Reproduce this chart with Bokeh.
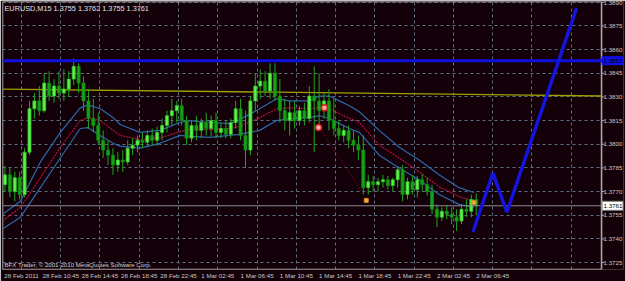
from bokeh.plotting import figure
from bokeh.models import (Range1d, FixedTicker, Label, Span, ColumnDataSource,
                          PrintfTickFormatter, CustomJSTickFormatter)
from bokeh.core.properties import value
from bokeh.embed import file_html
from bokeh.resources import INLINE

# ---------------- data ----------------
title_text = "EURUSD,M15  1.3755 1.3762 1.3755 1.3761"
copyright_text = "BFX Trader, \u00a9 2001-2010 MetaQuotes Software Corp."

opens = [1.37744, 1.37806, 1.37700, 1.37788, 1.37681, 1.37950, 1.38225, 1.38275, 1.38213, 1.38388,
         1.38306, 1.38369, 1.38325, 1.38350, 1.38413, 1.38494, 1.38388, 1.38275, 1.38163, 1.38119,
         1.38025, 1.37963, 1.37931, 1.37869, 1.37900, 1.37888, 1.37975, 1.37994, 1.38025, 1.38013,
         1.38056, 1.38025, 1.38075, 1.38119, 1.38181, 1.38213, 1.38244, 1.38150, 1.38038, 1.38119,
         1.38088, 1.38138, 1.38100, 1.38150, 1.38075, 1.38100, 1.38063, 1.38138, 1.38225, 1.38056,
         1.37963, 1.38275, 1.38369, 1.38400, 1.38338, 1.38450, 1.38306, 1.38213, 1.38150, 1.38200,
         1.38150, 1.38213, 1.38163, 1.38306, 1.38275, 1.38213, 1.38275, 1.38150, 1.38100, 1.38056,
         1.38088, 1.38025, 1.37994, 1.37963, 1.37725, 1.37763, 1.37744, 1.37763, 1.37775, 1.37738,
         1.37775, 1.37838, 1.37681, 1.37763, 1.37713, 1.37775, 1.37744, 1.37700, 1.37588, 1.37538,
         1.37575, 1.37556, 1.37538, 1.37513, 1.37588, 1.37575, 1.37650]
highs = [1.37863, 1.37850, 1.37825, 1.37825, 1.37975, 1.38275, 1.38325, 1.38369, 1.38450, 1.38463,
         1.38413, 1.38463, 1.38475, 1.38463, 1.38544, 1.38513, 1.38431, 1.38350, 1.38288, 1.38200,
         1.38088, 1.38025, 1.37975, 1.37950, 1.37963, 1.38025, 1.38038, 1.38056, 1.38075, 1.38088,
         1.38100, 1.38113, 1.38163, 1.38213, 1.38288, 1.38275, 1.38288, 1.38181, 1.38150, 1.38181,
         1.38163, 1.38200, 1.38181, 1.38200, 1.38138, 1.38150, 1.38163, 1.38275, 1.38288, 1.38213,
         1.38306, 1.38450, 1.38475, 1.38463, 1.38513, 1.38513, 1.38413, 1.38288, 1.38275, 1.38275,
         1.38244, 1.38263, 1.38369, 1.38494, 1.38450, 1.38325, 1.38350, 1.38288, 1.38150, 1.38119,
         1.38119, 1.38088, 1.38056, 1.38056, 1.37806, 1.37800, 1.37788, 1.37806, 1.37800, 1.37788,
         1.37863, 1.37869, 1.37788, 1.37806, 1.37800, 1.37813, 1.37788, 1.37744, 1.37619, 1.37600,
         1.37613, 1.37600, 1.37588, 1.37619, 1.37650, 1.37681, 1.37688]
lows = [1.37700, 1.37663, 1.37638, 1.37650, 1.37663, 1.37931, 1.38163, 1.38181, 1.38200, 1.38275,
        1.38263, 1.38288, 1.38275, 1.38300, 1.38375, 1.38325, 1.38213, 1.38100, 1.38075, 1.37994,
        1.37913, 1.37869, 1.37806, 1.37825, 1.37825, 1.37869, 1.37931, 1.37950, 1.37975, 1.37981,
        1.37994, 1.37988, 1.38025, 1.38075, 1.38119, 1.38138, 1.38119, 1.37994, 1.38013, 1.38025,
        1.38038, 1.38056, 1.38050, 1.38038, 1.38038, 1.38038, 1.38038, 1.38100, 1.38025, 1.37850,
        1.37931, 1.38213, 1.38288, 1.38306, 1.38288, 1.38275, 1.38138, 1.38088, 1.38056, 1.38100,
        1.38119, 1.38119, 1.38138, 1.37950, 1.38088, 1.38163, 1.38088, 1.38056, 1.38025, 1.38013,
        1.37975, 1.37950, 1.37900, 1.37681, 1.37681, 1.37700, 1.37700, 1.37725, 1.37713, 1.37700,
        1.37725, 1.37638, 1.37650, 1.37681, 1.37663, 1.37700, 1.37675, 1.37556, 1.37475, 1.37513,
        1.37525, 1.37494, 1.37450, 1.37494, 1.37538, 1.37538, 1.37550]
closes = [1.37806, 1.37700, 1.37788, 1.37681, 1.37950, 1.38225, 1.38275, 1.38213, 1.38388, 1.38306,
          1.38369, 1.38325, 1.38350, 1.38413, 1.38494, 1.38388, 1.38275, 1.38163, 1.38119, 1.38025,
          1.37963, 1.37931, 1.37869, 1.37900, 1.37888, 1.37975, 1.37994, 1.38025, 1.38013, 1.38056,
          1.38025, 1.38075, 1.38119, 1.38181, 1.38213, 1.38244, 1.38150, 1.38038, 1.38119, 1.38088,
          1.38138, 1.38100, 1.38150, 1.38075, 1.38100, 1.38063, 1.38138, 1.38225, 1.38056, 1.37963,
          1.38275, 1.38369, 1.38400, 1.38338, 1.38450, 1.38306, 1.38213, 1.38150, 1.38200, 1.38150,
          1.38213, 1.38163, 1.38306, 1.38275, 1.38213, 1.38275, 1.38150, 1.38100, 1.38056, 1.38088,
          1.38025, 1.37994, 1.37963, 1.37725, 1.37763, 1.37744, 1.37763, 1.37775, 1.37738, 1.37775,
          1.37838, 1.37681, 1.37763, 1.37713, 1.37775, 1.37744, 1.37700, 1.37588, 1.37538, 1.37575,
          1.37556, 1.37538, 1.37513, 1.37588, 1.37575, 1.37650, 1.37610]

# indicator lines (bar position, price)
band_bars = [0.0, 3.65, 7.72, 11.78, 15.84, 17.4, 19.9, 22.54, 23.96, 28.02, 32.08, 36.14, 38.17,
             42.23, 46.29, 48.32, 52.39, 55.84, 58.48, 62.54, 64.57, 66.6, 68.63, 70.66, 72.69,
             76.75, 80.81, 84.87, 88.93, 93.0, 96.04]
upper_band = [1.37556, 1.37638, 1.37888, 1.38075, 1.38231, 1.38250, 1.38225, 1.38169, 1.38125,
              1.38075, 1.38088, 1.38138, 1.38150, 1.38138, 1.38131, 1.38156, 1.38225, 1.38288,
              1.38275, 1.38275, 1.38306, 1.38306, 1.38275, 1.38244, 1.38206, 1.38088, 1.37981,
              1.37900, 1.37806, 1.37725, 1.37694]
middle_line = [1.37513, 1.37600, 1.37788, 1.37981, 1.38150, 1.38169, 1.38150, 1.38088, 1.38056,
               1.38030, 1.38040, 1.38080, 1.38094, 1.38094, 1.38100, 1.38113, 1.38169, 1.38225,
               1.38231, 1.38225, 1.38231, 1.38225, 1.38194, 1.38165, 1.38138, 1.37994, 1.37913,
               1.37825, 1.37731, 1.37669, 1.37638]
lower_band = [1.37463, 1.37538, 1.37725, 1.37913, 1.38100, 1.38106, 1.38056, 1.38006, 1.37988,
              1.37975, 1.38006, 1.38056, 1.38050, 1.38044, 1.38056, 1.38063, 1.38088, 1.38150,
              1.38163, 1.38169, 1.38181, 1.38163, 1.38131, 1.38100, 1.38075, 1.37931, 1.37850,
              1.37775, 1.37681, 1.37619, 1.37600]
fall_bars = [65.18, 73.3]
fall_line = [1.38075, 1.37694]

signal_bars = [65.58, 64.37]
signal_prices = [1.38231, 1.38106]
mark_bars = [74.1, 96.04]
mark_prices = [1.37644, 1.37631]

zigzag_bars = [95.84, 99.90, 102.74, 116.95]
zigzag_prices = [1.37444, 1.37819, 1.37569, 1.38863]

resistance = 1.3853
bid = 1.3761
pivot_line = [1.38350, 1.38306]

price_ticks = [1.3725, 1.3740, 1.3755, 1.3770, 1.3785, 1.3800, 1.3815,
               1.3830, 1.3845, 1.3860, 1.3875, 1.3890]
time_labels = ["28 Feb 2011", "28 Feb 10:45", "28 Feb 14:45", "28 Feb 18:45", "28 Feb 22:45",
               "1 Mar 02:45", "1 Mar 06:45", "1 Mar 10:45", "1 Mar 14:45", "1 Mar 18:45",
               "1 Mar 22:45", "2 Mar 02:45", "2 Mar 06:45", "", ""]
first_grid_bar = 3.86
bars_per_label = 8

# ---------------- styling ----------------
BG = "#140009"
GRID = "#5f6f82"
TXT = "#c8c8c8"
FRAME = "#a8a8a8"
FONT = "Liberation Sans"

y0, y1 = 1.37206, 1.38905
chart_end = 122.03      # right edge of the price area
x_end = 126.5           # includes the price-scale strip
p = figure(width=625, height=281, x_range=Range1d(0, x_end), y_range=Range1d(y0, y1),
           y_axis_location="right", output_backend="svg", toolbar_location=None,
           background_fill_color=BG, border_fill_color=BG,
           min_border_left=2, min_border_right=0, min_border_top=1, min_border_bottom=11)
p.outline_line_color = None

# y axis: labels pulled back into the price-scale strip
p.yaxis.ticker = FixedTicker(ticks=price_ticks)
p.yaxis.formatter = PrintfTickFormatter(format="%.4f")
p.yaxis.axis_line_color = None
p.yaxis.major_tick_in = 0
p.yaxis.major_tick_out = 0
p.yaxis.minor_tick_out = 0
p.yaxis.minor_tick_in = 0
p.yaxis.major_label_standoff = -20
p.yaxis.major_label_text_font = FONT
p.yaxis.major_label_text_font_size = "6.2px"
p.yaxis.major_label_text_color = TXT

x_ticks = [first_grid_bar + bars_per_label * k for k in range(len(time_labels))]
p.xaxis.ticker = FixedTicker(ticks=x_ticks)
p.xaxis.formatter = CustomJSTickFormatter(args=dict(labels=time_labels),
                                          code="const v = labels[index]; return v == null ? '' : v;")
p.xaxis.axis_line_color = None
p.xaxis.major_tick_out = 0
p.xaxis.major_tick_in = 0
p.xaxis.minor_tick_out = 0
p.xaxis.minor_tick_in = 0
p.xaxis.major_label_standoff = 2
p.xaxis.major_label_text_font = FONT
p.xaxis.major_label_text_font_size = "6.2px"
p.xaxis.major_label_text_color = TXT

p.grid.grid_line_color = GRID
p.grid.grid_line_dash = "3 3"
p.grid.grid_line_width = 1

# price-scale strip background (hides the grid there)
p.quad(left=[chart_end], right=[x_end], bottom=[y0], top=[y1], fill_color=BG, line_color=None)

# frame of the price area
p.line([chart_end, 0, 0, chart_end, chart_end], [y1, y1, y0, y0, y1], line_color=FRAME, line_width=1.6)
# small tick marks on the price scale
p.segment(x0=[chart_end] * len(price_ticks), y0=price_ticks,
          x1=[chart_end + 0.6] * len(price_ticks), y1=price_ticks, line_color=FRAME, line_width=1)

# olive pivot line
p.line([0, chart_end], pivot_line, line_color="#a0a000", line_width=1.3)

# bands
p.line(band_bars, upper_band, line_color="#2c68aa", line_width=1.2)
p.line(band_bars, lower_band, line_color="#2c68aa", line_width=1.2)
p.line(band_bars, middle_line, line_color="#c01440", line_width=1.1, line_dash="2 1")
p.line(fall_bars, fall_line, line_color="#b01038", line_width=1, line_dash="1 2")

# candles
n = len(closes)
xs = [i + 0.5 for i in range(n)]
bull = [c >= o for o, c in zip(opens, closes)]
src = ColumnDataSource(dict(
    x=xs, high=highs, low=lows,
    top=[max(o, c) for o, c in zip(opens, closes)],
    bottom=[min(o, c) for o, c in zip(opens, closes)],
    fill=["#62f048" if b else "#18a018" for b in bull],
    edge=["#2cc02c" if b else "#0c8a0c" for b in bull],
))
p.segment("x", "high", "x", "low", source=src, line_color="#1ea51e", line_width=1)
p.vbar(x="x", top="top", bottom="bottom", width=0.62, source=src,
       fill_color="fill", line_color="edge", line_width=0.8)

# bid line and resistance line
p.line([0, chart_end], [bid, bid], line_color="#8a8a94", line_width=1)
p.line([0, x_end], [resistance, resistance], line_color="#1010e0", line_width=3)

# zigzag
p.line(zigzag_bars, zigzag_prices, line_color="#1414dc", line_width=3.5)

# signal markers
p.scatter(signal_bars, signal_prices, size=6, fill_color="#ffb0b0", line_color="#e01818", line_width=1.5)
p.scatter(mark_bars, mark_prices, marker="square", size=4, fill_color="#f0b040", line_color="#d08020")

# price tags on the price scale (drawn above the axis labels)
tag_x = (chart_end + x_end) / 2
p.rect(x=[tag_x], y=[resistance], width=x_end - chart_end, height=9, height_units="screen",
       fill_color="#1010e0", line_color=None, level="overlay")
p.rect(x=[tag_x], y=[bid], width=x_end - chart_end - 0.2, height=9, height_units="screen",
       fill_color="#ffffff", line_color="#808080", level="overlay")
p.text(x=[chart_end + 0.4, chart_end + 0.4], y=[resistance, bid], text=["1.3853", "1.3761"],
       text_baseline="middle", text_font=value(FONT), text_font_size="6.2px",
       text_color=["#000000", "#000000"], level="overlay")

# texts
p.add_layout(Label(x=0, y=y1, x_offset=2, y_offset=-7, text=title_text, text_baseline="middle",
                   text_font=FONT, text_font_size="7.3px", text_color="#e0e0e0"))
p.add_layout(Label(x=0, y=y0, x_offset=2, y_offset=5, text=copyright_text, text_baseline="middle",
                   text_font=FONT, text_font_size="6.1px", text_color="#d0d0d0"))

open("out.html", "w").write(file_html(p, INLINE))
